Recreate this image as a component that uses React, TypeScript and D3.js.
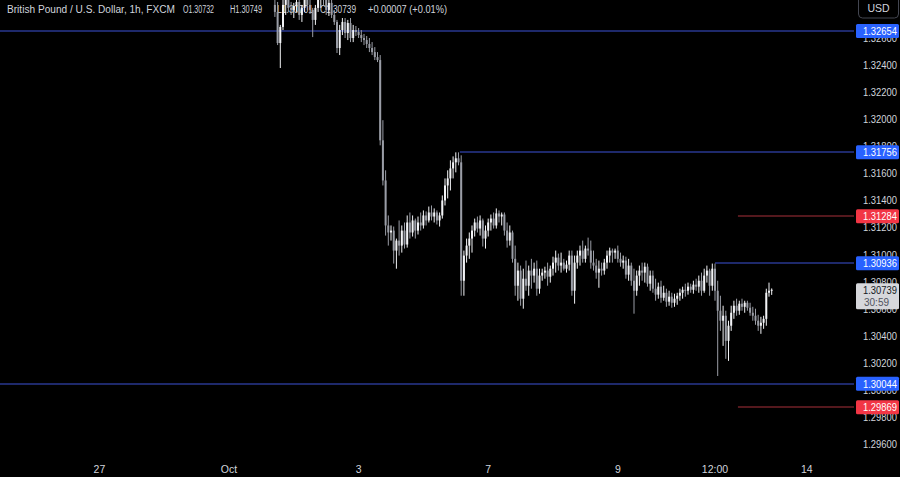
import React from 'react';
import * as d3 from 'd3';

// ---- data ----
const startIndex = 17; // bar index (hours since Oct 1 00:00, weekend compressed)
const firstOpen = 1.32847;
const closes = [
  1.32795, 1.32565, 1.32684, 1.32847, 1.32884, 1.32825, 1.32810, 1.32839, 1.32869, 1.32773,
  1.32825, 1.32884, 1.32847, 1.32810, 1.32736, 1.32825, 1.32884, 1.32921, 1.32899, 1.32810,
  1.32862, 1.32773, 1.32721, 1.32528, 1.32661, 1.32721, 1.32639, 1.32713, 1.32602, 1.32661,
  1.32647, 1.32624, 1.32602, 1.32587, 1.32558, 1.32528, 1.32498, 1.32461, 1.32439, 1.31845,
  1.31548, 1.31215, 1.31163, 1.31177, 1.31029, 1.31103, 1.31066, 1.31177, 1.31074, 1.31237,
  1.31163, 1.31252, 1.31177, 1.31237, 1.31215, 1.31289, 1.31252, 1.31311, 1.31281, 1.31311,
  1.31252, 1.31289, 1.31400, 1.31511, 1.31563, 1.31637, 1.31682, 1.31712, 1.31682, 1.30806,
  1.30992, 1.31066, 1.31118, 1.31177, 1.31237, 1.31192, 1.31252, 1.31118, 1.31177, 1.31237,
  1.31266, 1.31215, 1.31304, 1.31281, 1.31296, 1.31177, 1.31103, 1.31163, 1.30968, 1.30769,
  1.30881, 1.30673, 1.30821, 1.30769, 1.30881, 1.30844, 1.30895, 1.30747, 1.30844, 1.30866,
  1.30881, 1.30836, 1.30895, 1.30940, 1.30977, 1.30918, 1.30940, 1.30895, 1.30925, 1.30992,
  1.30732, 1.30940, 1.30992, 1.31029, 1.30968, 1.31044, 1.31029, 1.30940, 1.30918, 1.30866,
  1.30895, 1.30881, 1.30940, 1.30992, 1.31029, 1.31014, 1.31029, 1.30968, 1.30940, 1.30955,
  1.30851, 1.30918, 1.30806, 1.30732, 1.30844, 1.30881, 1.30866, 1.30910, 1.30784, 1.30844,
  1.30747, 1.30703, 1.30762, 1.30680, 1.30717, 1.30651, 1.30688, 1.30643, 1.30673, 1.30695,
  1.30717, 1.30739, 1.30732, 1.30762, 1.30739, 1.30777, 1.30762, 1.30806, 1.30732, 1.30844,
  1.30881, 1.30769, 1.30895, 1.30732, 1.30584, 1.30510, 1.30547, 1.30361, 1.30473, 1.30569,
  1.30621, 1.30584, 1.30636, 1.30613, 1.30643, 1.30606, 1.30569, 1.30547, 1.30510, 1.30473,
  1.30495, 1.30524, 1.30717, 1.30732, 1.30739,
];
const highs = [
  1.32958, 1.32869, 1.32699, 1.32921, 1.32958, 1.32973, 1.32869, 1.32862, 1.32921, 1.32943,
  1.32847, 1.32921, 1.32958, 1.32921, 1.32825, 1.32847, 1.32943, 1.32995, 1.32995, 1.32973,
  1.32921, 1.32921, 1.32810, 1.32736, 1.32699, 1.32750, 1.32750, 1.32736, 1.32750, 1.32699,
  1.32691, 1.32676, 1.32661, 1.32632, 1.32617, 1.32602, 1.32572, 1.32535, 1.32498, 1.32476,
  1.31994, 1.31623, 1.31289, 1.31215, 1.31207, 1.31118, 1.31252, 1.31215, 1.31237, 1.31289,
  1.31311, 1.31289, 1.31266, 1.31281, 1.31311, 1.31326, 1.31319, 1.31355, 1.31363, 1.31341,
  1.31326, 1.31311, 1.31437, 1.31563, 1.31623, 1.31697, 1.31726, 1.31756, 1.31756, 1.31734,
  1.31029, 1.31118, 1.31163, 1.31215, 1.31266, 1.31281, 1.31289, 1.31266, 1.31215, 1.31266,
  1.31296, 1.31311, 1.31341, 1.31326, 1.31311, 1.31311, 1.31237, 1.31215, 1.31177, 1.31066,
  1.30940, 1.30918, 1.30895, 1.30955, 1.30918, 1.30968, 1.30940, 1.30955, 1.30895, 1.30895,
  1.30910, 1.30940, 1.30918, 1.30984, 1.31029, 1.31007, 1.31014, 1.30968, 1.30955, 1.31029,
  1.31029, 1.30992, 1.31029, 1.31066, 1.31103, 1.31066, 1.31125, 1.31103, 1.31029, 1.30968,
  1.30955, 1.30940, 1.30968, 1.31029, 1.31051, 1.31044, 1.31044, 1.31066, 1.31014, 1.30992,
  1.30984, 1.30968, 1.30940, 1.30895, 1.30881, 1.30918, 1.30940, 1.30940, 1.30933, 1.30881,
  1.30881, 1.30821, 1.30792, 1.30806, 1.30769, 1.30747, 1.30732, 1.30717, 1.30710, 1.30717,
  1.30747, 1.30762, 1.30784, 1.30792, 1.30784, 1.30806, 1.30821, 1.30844, 1.30866, 1.30895,
  1.30918, 1.30895, 1.30933, 1.30933, 1.30806, 1.30695, 1.30621, 1.30584, 1.30510, 1.30621,
  1.30658, 1.30673, 1.30658, 1.30673, 1.30658, 1.30658, 1.30643, 1.30613, 1.30599, 1.30554,
  1.30539, 1.30547, 1.30747, 1.30792, 1.30749,
];
const lows = [
  1.32758, 1.32550, 1.32380, 1.32661, 1.32773, 1.32795, 1.32773, 1.32750, 1.32795, 1.32736,
  1.32721, 1.32795, 1.32810, 1.32780, 1.32609, 1.32699, 1.32795, 1.32825, 1.32847, 1.32773,
  1.32765, 1.32750, 1.32699, 1.32491, 1.32476, 1.32624, 1.32602, 1.32587, 1.32572, 1.32572,
  1.32617, 1.32602, 1.32572, 1.32550, 1.32528, 1.32498, 1.32476, 1.32439, 1.32424, 1.31808,
  1.31511, 1.31140, 1.31066, 1.31103, 1.30933, 1.30895, 1.30992, 1.31014, 1.31044, 1.31051,
  1.31118, 1.31133, 1.31118, 1.31148, 1.31177, 1.31192, 1.31215, 1.31237, 1.31252, 1.31237,
  1.31222, 1.31207, 1.31266, 1.31363, 1.31415, 1.31474, 1.31563, 1.31608, 1.31660, 1.30695,
  1.30695, 1.30940, 1.30968, 1.31014, 1.31133, 1.31163, 1.31140, 1.31059, 1.31044, 1.31133,
  1.31177, 1.31192, 1.31192, 1.31237, 1.31215, 1.31140, 1.31051, 1.31066, 1.30940, 1.30695,
  1.30658, 1.30621, 1.30599, 1.30732, 1.30695, 1.30747, 1.30792, 1.30695, 1.30710, 1.30806,
  1.30821, 1.30769, 1.30792, 1.30844, 1.30866, 1.30881, 1.30866, 1.30881, 1.30866, 1.30881,
  1.30695, 1.30636, 1.30895, 1.30918, 1.30940, 1.30940, 1.30992, 1.30895, 1.30881, 1.30821,
  1.30754, 1.30844, 1.30851, 1.30895, 1.30940, 1.30940, 1.30968, 1.30940, 1.30910, 1.30895,
  1.30821, 1.30806, 1.30769, 1.30562, 1.30695, 1.30769, 1.30806, 1.30792, 1.30762, 1.30732,
  1.30717, 1.30658, 1.30673, 1.30643, 1.30658, 1.30613, 1.30621, 1.30606, 1.30613, 1.30628,
  1.30658, 1.30673, 1.30688, 1.30703, 1.30717, 1.30710, 1.30732, 1.30717, 1.30695, 1.30717,
  1.30792, 1.30695, 1.30732, 1.30658, 1.30101, 1.30435, 1.30324, 1.30228, 1.30213, 1.30435,
  1.30524, 1.30547, 1.30554, 1.30584, 1.30569, 1.30584, 1.30547, 1.30510, 1.30480, 1.30435,
  1.30413, 1.30450, 1.30473, 1.30688, 1.30701,
];

const priceTicks = [
  1.296, 1.298, 1.300, 1.302, 1.304, 1.306, 1.308, 1.310,
  1.312, 1.314, 1.316, 1.318, 1.320, 1.322, 1.324, 1.326,
];
const timeTickIndex = [-48, 0, 48, 96, 144, 180, 214];
const timeTickLabels = ['27', 'Oct', '3', '7', '9', '12:00', '14'];

const levels = [1.32654, 1.31756, 1.31284, 1.30936, 1.30044, 1.29869];
const levelKinds = ['blue', 'blue', 'red', 'blue', 'blue', 'red'];
const levelStartIndex = [null, 85.5, 188.5, 180, null, 188.5];

const lastPrice = 1.30739;
const countdown = '30:59';
const currency = 'USD';
const headerParts = [
  'British Pound / U.S. Dollar, 1h, FXCM',
  'O1.30732',
  'H1.30749',
  'L1.30701',
  'C1.30739',
  '+0.00007 (+0.01%)',
];

// ---- layout / style ----
const W = 900;
const H = 477;
const plotRight = 854;
const headerX = [7, 183, 230, 277, 320, 368];
const headerLen = [168, 31, 32, 36, 36, 79];
const FONT = "'Liberation Sans', Arial, sans-serif";

export default function App() {
  const x = d3.scaleLinear().domain([0, 216]).range([229, 229 + 216 * 2.7]);
  const y = d3.scaleLinear().domain([1.32654, 1.30044]).range([31, 383.7]);
  const fmt = d3.format('.5f');

  const bars = closes.map((c, k) => {
    const o = k === 0 ? firstOpen : closes[k - 1];
    return { i: startIndex + k, o, h: Math.max(highs[k], o, c), l: Math.min(lows[k], o, c), c };
  });

  const blueLine = '#3d52d6';
  const redLine = '#a8303a';
  const blueTag = '#2962ff';
  const redTag = '#f23645';

  return (
    <svg
      width={W}
      height={H}
      style={{ position: 'fixed', left: 0, top: 0, background: '#000', display: 'block' }}
      fontFamily={FONT}
    >
      <rect x={0} y={0} width={W} height={H} fill="#000" />
      <defs>
        <clipPath id="plot">
          <rect x={0} y={0} width={plotRight} height={455} />
        </clipPath>
      </defs>

      {/* header legend */}
      {headerParts.map((t, k) => (
        <text
          key={k}
          x={headerX[k]}
          y={12.5}
          fontSize={10}
          fill="#d1d4dc"
          textLength={headerLen[k]}
          lengthAdjust="spacingAndGlyphs"
        >
          {t}
        </text>
      ))}

      {/* level lines */}
      {levels.map((p, k) => {
        const sx = levelStartIndex[k] == null ? 0 : x(levelStartIndex[k] as number);
        const yy = Math.round(y(p));
        return (
          <line
            key={k}
            x1={sx}
            x2={plotRight}
            y1={yy}
            y2={yy}
            stroke={levelKinds[k] === 'blue' ? blueLine : redLine}
            strokeWidth={1}
          />
        );
      })}

      {/* candles */}
      <g clipPath="url(#plot)">
        {bars.map((b) => {
          const cx = x(b.i);
          const up = b.c >= b.o;
          const col = up ? '#f2f3f6' : '#9a9da6';
          const top = y(Math.max(b.o, b.c));
          const bot = y(Math.min(b.o, b.c));
          return (
            <g key={b.i}>
              <line x1={cx} x2={cx} y1={y(b.h)} y2={y(b.l)} stroke={col} strokeWidth={1} />
              <rect x={cx - 1} y={top} width={2} height={Math.max(1, bot - top)} fill={col} />
            </g>
          );
        })}
      </g>

      {/* price axis ticks */}
      {priceTicks.map((p) => (
        <text
          key={p}
          x={863}
          y={y(p) + 4}
          fontSize={10}
          fill="#d1d4dc"
          textLength={34}
          lengthAdjust="spacingAndGlyphs"
        >
          {fmt(p)}
        </text>
      ))}

      {/* level tags */}
      {levels.map((p, k) => {
        const yy = y(p);
        return (
          <g key={k}>
            <rect
              x={856}
              y={yy - 7}
              width={43}
              height={14}
              rx={1.5}
              fill={levelKinds[k] === 'blue' ? blueTag : redTag}
            />
            <text
              x={863}
              y={yy + 4}
              fontSize={10}
              fill="#ffffff"
              textLength={34}
              lengthAdjust="spacingAndGlyphs"
            >
              {fmt(p)}
            </text>
          </g>
        );
      })}

      {/* current price tag */}
      <g>
        <rect x={856} y={y(lastPrice) - 6.5} width={43} height={26} rx={1.5} fill="#d6d7db" />
        <text
          x={863}
          y={y(lastPrice) + 4}
          fontSize={10}
          fill="#131722"
          textLength={34}
          lengthAdjust="spacingAndGlyphs"
        >
          {fmt(lastPrice)}
        </text>
        <text x={864} y={y(lastPrice) + 16} fontSize={10} fill="#50535e">
          {countdown}
        </text>
      </g>

      {/* currency box */}
      <rect x={858.5} y={-4} width={40} height={22} rx={4} fill="#000" stroke="#434651" />
      <text x={878.5} y={12} fontSize={10.5} fill="#d1d4dc" textAnchor="middle">
        {currency}
      </text>

      {/* time axis */}
      {timeTickIndex.map((ti, k) => (
        <text key={k} x={x(ti)} y={473} fontSize={10.5} fill="#d1d4dc" textAnchor="middle">
          {timeTickLabels[k]}
        </text>
      ))}
    </svg>
  );
}
